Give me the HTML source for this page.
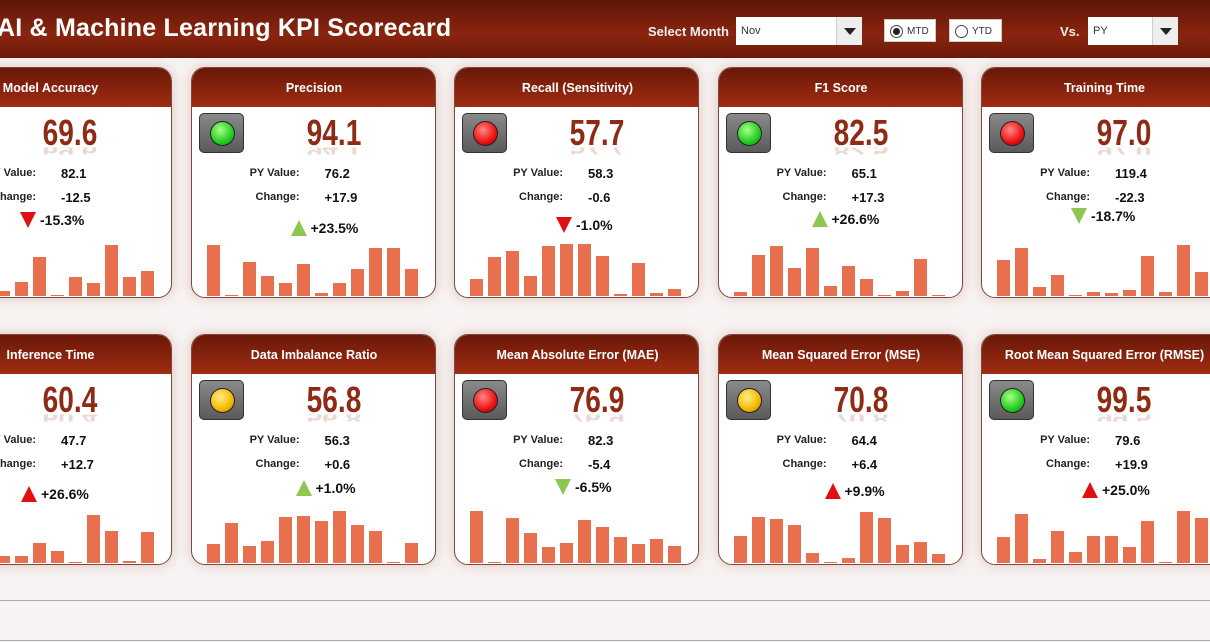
<!DOCTYPE html>
<html><head><meta charset="utf-8">
<style>
*{margin:0;padding:0;box-sizing:border-box}
html,body{width:1210px;height:642px;overflow:hidden}
body{background:#f7f3f2;font-family:"Liberation Sans",sans-serif;position:relative}
#wrap{position:absolute;left:0;top:0;width:1210px;height:642px;overflow:hidden}
#hdr{position:absolute;left:0;top:0;width:1210px;height:58px;background:linear-gradient(#5e1607,#8a250f 60%,#6a1a08);overflow:hidden}
#title{position:absolute;left:-3px;top:14px;color:#fff;font-weight:bold;font-size:25px;letter-spacing:0.2px;white-space:nowrap}
.lbl{position:absolute;color:#eee;font-weight:bold;font-size:13px}
.dd{position:absolute;background:#fff;height:28px;font-size:11px;color:#333;padding:8px 0 0 5px}
.dd .btn{position:absolute;right:0;top:0;width:26px;height:28px;background:#eee;border-left:1px solid #ccc}
.dd .btn:after{content:"";position:absolute;left:7px;top:11px;border-left:6px solid transparent;border-right:6px solid transparent;border-top:7px solid #222}
.rb{position:absolute;background:#fff;height:23px;font-size:10px;color:#333;padding:6px 0 0 22px;border:1px solid #ccc}
.rb:before{content:"";position:absolute;left:5px;top:5px;width:11px;height:11px;border:1px solid #444;border-radius:50%}
.rb.on:after{content:"";position:absolute;left:8px;top:8px;width:7px;height:7px;background:#222;border-radius:50%}
.card{position:absolute;width:245px;height:231px;background:#fff;border-radius:14px;border:1px solid #7a4a40;box-shadow:0 0 12px rgba(160,60,40,0.25);overflow:hidden}
.ch{position:absolute;left:0;top:0;width:100%;height:39px;background:linear-gradient(#6a1808,#a02c12);color:#fff;font-weight:bold;font-size:12.5px;text-align:center;line-height:40px;white-space:nowrap}
.light{position:absolute;left:7px;top:45px;width:45px;height:40px;background:linear-gradient(#8a8a8a,#5a5a5a);border:1px solid #333;border-radius:5px}
.light i{position:absolute;left:10px;top:7px;width:25px;height:25px;border-radius:50%;border:1px solid #222}
.num{position:absolute;left:92px;width:100px;top:44px;text-align:center;font-weight:bold;font-size:36px;color:#8f2b14;transform:scaleX(0.78)}
.refl{position:absolute;left:92px;width:100px;top:76px;height:14px;text-align:center;font-weight:bold;font-size:36px;color:#8f2b14;transform:scale(0.78,-0.5);opacity:0.18;overflow:hidden;line-height:14px}
.k{position:absolute;font-weight:bold;font-size:11px;color:#222;text-align:right;width:100px;left:8px}
.v{position:absolute;font-weight:bold;font-size:13px;color:#111;left:133px}
.pct{position:absolute;font-weight:bold;font-size:14px;color:#111;white-space:nowrap}
.ar{position:absolute;width:0;height:0;border-left:8px solid transparent;border-right:8px solid transparent}
.bar{position:absolute;width:13px;background:#e8704e}
.hl{position:absolute;left:0;width:1210px;height:1px;background:#aaa}
</style></head><body>
<div id="wrap">
<div id="hdr">
<div id="title">AI &amp; Machine Learning KPI Scorecard</div>
<div class="lbl" style="left:648px;top:24px">Select Month</div>
<div class="dd" style="left:736px;top:17px;width:126px">Nov<div class="btn"></div></div>
<div class="rb on" style="left:884px;top:19px;width:52px">MTD</div>
<div class="rb" style="left:949px;top:19px;width:53px">YTD</div>
<div class="lbl" style="left:1060px;top:24px">Vs.</div>
<div class="dd" style="left:1088px;top:17px;width:90px">PY<div class="btn"></div></div>
</div>
<div class="hl" style="top:600px"></div>
<div class="hl" style="top:640px"></div>
<div id="cards"></div>
</div>
<script>
const titles=["Model Accuracy","Precision","Recall (Sensitivity)","F1 Score","Training Time","Inference Time","Data Imbalance Ratio","Mean Absolute Error (MAE)","Mean Squared Error (MSE)","Root Mean Squared Error (RMSE)"];
const actuals=["69.6","94.1","57.7","82.5","97.0","60.4","56.8","76.9","70.8","99.5"];
const pyValues=["82.1","76.2","58.3","65.1","119.4","47.7","56.3","82.3","64.4","79.6"];
const changes=["-12.5","+17.9","-0.6","+17.3","-22.3","+12.7","+0.6","-5.4","+6.4","+19.9"];
const pcts=["-15.3%","+23.5%","-1.0%","+26.6%","-18.7%","+26.6%","+1.0%","-6.5%","+9.9%","+25.0%"];
const lights=["none","green","red","green","red","none","yellow","red","yellow","green"];
const arrowDir=["down","up","down","up","down","up","up","down","up","up"];
const arrowColor=["red","green","red","green","green","red","green","green","red","red"];
const bars0=[30,50,20,10,27,75,2,37,25,98,37,48];
const bars1=[98,2,65,38,25,62,6,25,52,92,92,52];
const bars2=[33,75,87,38,96,100,100,76,3,63,6,13];
const bars3=[7,79,97,54,92,19,58,33,2,10,71,1];
const bars4=[70,92,17,40,1,8,5,12,77,8,99,46];
const bars5=[30,45,20,13,13,39,23,2,93,61,3,60];
const bars6=[37,77,33,43,89,90,80,100,73,61,2,39];
const bars7=[100,1,87,58,30,39,82,69,50,37,47,32];
const bars8=[51,88,85,74,20,1,10,99,87,35,41,18];
const bars9=[50,95,7,62,22,52,52,31,80,1,100,87];
const allBars=[bars0,bars1,bars2,bars3,bars4,bars5,bars6,bars7,bars8,bars9];
const arrowX=[100,107,109,101,97,101,112,108,114,108];
const arrowY=[152,160,157,151,148,159,153,152,156,155];
const lightCols={green:"radial-gradient(circle at 40% 35%,#aaff88,#22cc22 60%,#138a13)",red:"radial-gradient(circle at 40% 35%,#ff8888,#ee1111 60%,#990000)",yellow:"radial-gradient(circle at 40% 35%,#ffee88,#f6b800 60%,#b07a00)"};
function yScale(v){return v*0.52;}
function xBar(i){return 15+i*18;}
const root=document.getElementById('cards');
for(let c=0;c<10;c++){
  const L=-73+(c%5)*263.5, T=c<5?67:334;
  const card=document.createElement('div');card.className='card';
  
  
  card.style.left=L+'px';card.style.top=T+'px';
  if(c%5===4){card.style.width=(1210-L+14)+'px';}
  let h='<div class="ch" style="width:245px">'+titles[c]+'</div>';
  if(lights[c]!=='none') h+='<div class="light"><i style="background:'+lightCols[lights[c]]+'"></i></div>';
  h+='<div class="num">'+actuals[c]+'</div>';
  h+='<div class="refl">'+actuals[c]+'</div>';
  h+='<div class="k" style="top:99px">PY Value:</div><div class="v" style="top:98px">'+pyValues[c]+'</div>';
  h+='<div class="k" style="top:123px">Change:</div><div class="v" style="top:122px">'+changes[c]+'</div>';
  const col=arrowColor[c]==='red'?'#e01010':'#8cc850';
  const ay=arrowY[c]-8;
  const bs=arrowDir[c]==='up'?'border-bottom:16px solid '+col:'border-top:16px solid '+col;
  h+='<div class="ar" style="left:'+(arrowX[c]-8)+'px;top:'+ay+'px;'+bs+'"></div>';
  h+='<div class="pct" style="left:'+(arrowX[c]+12)+'px;top:'+(arrowY[c]-8)+'px">'+pcts[c]+'</div>';
  card.innerHTML=h;
  allBars[c].forEach((v,i)=>{
    const b=document.createElement('div');b.className='bar';
    
    
    const hh=Math.max(1,yScale(v));
    b.style.left=xBar(i)+'px';b.style.top=(228-hh)+'px';b.style.height=hh+'px';
    card.appendChild(b);
  });
  root.appendChild(card);
}
</script>
</body></html>
